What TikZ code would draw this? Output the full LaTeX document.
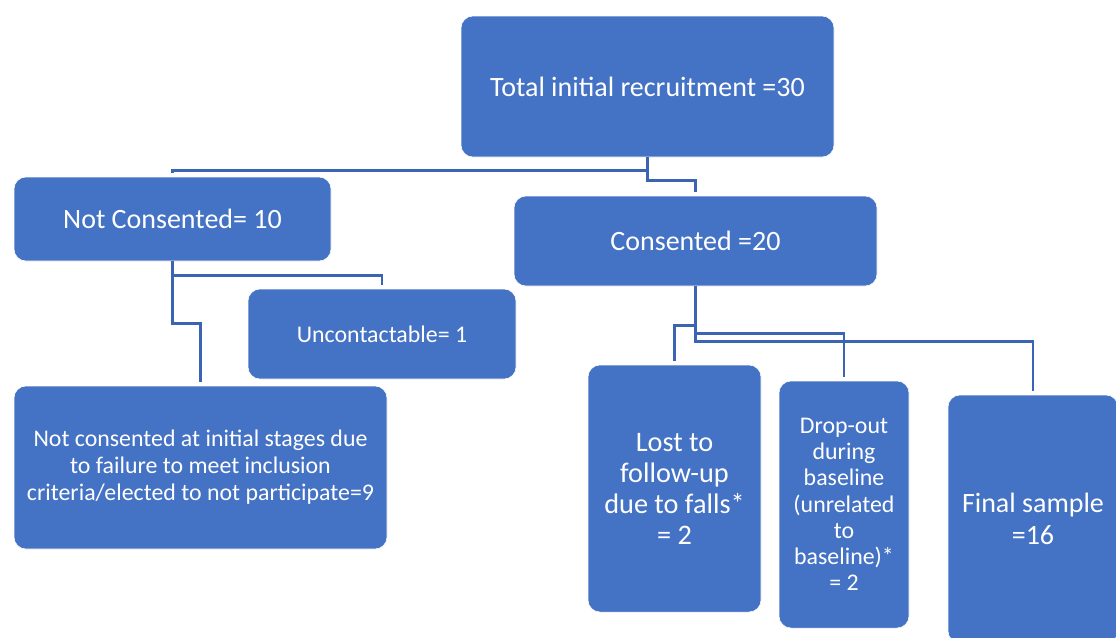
\documentclass[tikz,border=0pt]{standalone}
\usepackage{fontspec}
\setmainfont{Carlito}
\definecolor{boxblue}{HTML}{4472C4}
\definecolor{lineblue}{HTML}{3B65B3}
\begin{document}
\begin{tikzpicture}[x=0.75pt,y=-0.75pt,
  box/.style={fill=boxblue,draw=white,line width=0.4pt,rounded corners=9pt,text=white,align=center,inner sep=0pt},
  big/.style={font=\fontsize{21}{23.5}\selectfont},
  small/.style={font=\fontsize{17.9}{20}\selectfont},
  conn/.style={draw=lineblue,line width=2pt,shorten >=3pt}]
\clip (0,0) rectangle (1116,637);
\fill[white] (0,0) rectangle (1116,637);
\node[box,big,minimum width=279.75pt,minimum height=105.75pt] (total) at (647.5,86.5) {Total initial recruitment =30};
\node[box,big,minimum width=237.75pt,minimum height=63pt] (nc) at (172.5,219) {Not Consented= 10};
\node[box,big,minimum width=272.25pt,minimum height=67.5pt] (cons) at (695.5,241) {Consented =20};
\node[box,small,minimum width=201pt,minimum height=67.5pt] (unc) at (382,334) {Uncontactable= 1};
\node[box,font=\fontsize{17.9}{20.25}\selectfont,minimum width=279.75pt,minimum height=122.25pt] (ncinit) at (200.5,467.5) {Not consented at initial stages due\\to failure to meet inclusion\\criteria/elected to not participate=9};
\node[box,font=\fontsize{21.2}{23.25}\selectfont,minimum width=129.75pt,minimum height=185.25pt] (lost) at (674.5,488.5) {Lost to\\follow-up\\due to falls*\\= 2};
\node[box,font=\fontsize{17.9}{19.7}\selectfont,minimum width=97.5pt,minimum height=185.25pt] (drop) at (844,504.5) {Drop-out\\during\\baseline\\(unrelated\\to\\baseline)*\\= 2};
\node[box,font=\fontsize{21}{24}\selectfont,minimum width=127.5pt,minimum height=186pt] (final) at (1033,519) {Final sample\\=16};
\draw[conn] (total.south) -- ++(0,23) -| (cons.north);
\draw[conn] (total.south) -- ++(0,13) -| (nc.north);
\draw[conn] (nc.south) -- ++(0,14) -| (unc.north);
\draw[conn] (nc.south) -- ++(0,62) -| (ncinit.north);
\draw[conn] (cons.south) -- ++(0,39) -| (lost.north);
\draw[conn] (cons.south) -- ++(0,47) -| (drop.north);
\draw[conn] (cons.south) -- ++(0,55) -| (final.north);
\end{tikzpicture}
\end{document}
